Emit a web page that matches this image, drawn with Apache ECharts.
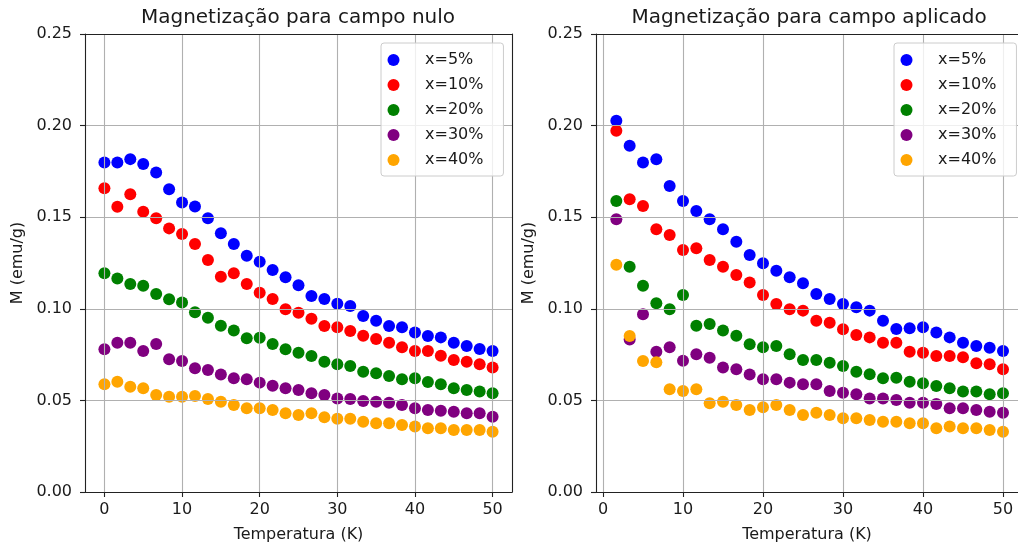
<!DOCTYPE html>
<html>
<head>
<meta charset="utf-8">
<script src="https://cdn.jsdelivr.net/npm/echarts@6/dist/echarts.min.js"></script>
<style>
html,body{margin:0;padding:0;background:#fff;}
#chart{width:1018px;height:547px;}
</style>
</head>
<body>
<div id="chart"></div>
<script>
// ---- data ----
const seriesNames = ['x=5%', 'x=10%', 'x=20%', 'x=30%', 'x=40%'];
const seriesColors = ['#0000ff', '#ff0000', '#008000', '#800080', '#ffa500'];
const xTicks = [0, 10, 20, 30, 40, 50];
const yTicks = [0, 0.05, 0.10, 0.15, 0.20, 0.25];
const titleLeft = 'Magnetização para campo nulo';
const titleRight = 'Magnetização para campo aplicado';
const xLabel = 'Temperatura (K)';
const yLabel = 'M (emu/g)';

// Temperatures (K)
const tempNulo = [0, 1.667, 3.333, 5, 6.667, 8.333, 10, 11.667, 13.333, 15, 16.667, 18.333, 20, 21.667, 23.333, 25, 26.667, 28.333, 30, 31.667, 33.333, 35, 36.667, 38.333, 40, 41.667, 43.333, 45, 46.667, 48.333, 50];
const tempAplicado = [1.667, 3.333, 5, 6.667, 8.333, 10, 11.667, 13.333, 15, 16.667, 18.333, 20, 21.667, 23.333, 25, 26.667, 28.333, 30, 31.667, 33.333, 35, 36.667, 38.333, 40, 41.667, 43.333, 45, 46.667, 48.333, 50];

// Zero field
const nulo5 = [0.1798, 0.1798, 0.1817, 0.1790, 0.1744, 0.1653, 0.1580, 0.1558, 0.1494, 0.1412, 0.1354, 0.1290, 0.1257, 0.1212, 0.1172, 0.1128, 0.1070, 0.1054, 0.1028, 0.1015, 0.0961, 0.0935, 0.0906, 0.0899, 0.0870, 0.0852, 0.0844, 0.0815, 0.0797, 0.0781, 0.0770];
const nulo10 = [0.1658, 0.1557, 0.1625, 0.1530, 0.1494, 0.1439, 0.1408, 0.1354, 0.1266, 0.1175, 0.1194, 0.1135, 0.1088, 0.1053, 0.0997, 0.0979, 0.0946, 0.0906, 0.0899, 0.0879, 0.0853, 0.0835, 0.0815, 0.0790, 0.0770, 0.0770, 0.0744, 0.0721, 0.0711, 0.0697, 0.0679];
const nulo20 = [0.1194, 0.1166, 0.1135, 0.1126, 0.1081, 0.1052, 0.1035, 0.0981, 0.0951, 0.0908, 0.0881, 0.0839, 0.0842, 0.0808, 0.0779, 0.0760, 0.0742, 0.0711, 0.0697, 0.0688, 0.0657, 0.0648, 0.0633, 0.0615, 0.0621, 0.0600, 0.0588, 0.0566, 0.0557, 0.0548, 0.0539];
const nulo30 = [0.0779, 0.0815, 0.0815, 0.0770, 0.0808, 0.0724, 0.0715, 0.0675, 0.0666, 0.0642, 0.0621, 0.0615, 0.0597, 0.0580, 0.0566, 0.0557, 0.0539, 0.0530, 0.0511, 0.0508, 0.0497, 0.0493, 0.0487, 0.0475, 0.0457, 0.0448, 0.0444, 0.0438, 0.0430, 0.0430, 0.0411];
const nulo40 = [0.0588, 0.0602, 0.0575, 0.0566, 0.0529, 0.0520, 0.0520, 0.0524, 0.0508, 0.0493, 0.0475, 0.0457, 0.0457, 0.0448, 0.0430, 0.0420, 0.0430, 0.0408, 0.0400, 0.0400, 0.0384, 0.0375, 0.0375, 0.0366, 0.0357, 0.0348, 0.0348, 0.0338, 0.0338, 0.0338, 0.0329];

// Applied field
const apl5 = [0.2027, 0.1890, 0.1798, 0.1816, 0.1670, 0.1588, 0.1534, 0.1489, 0.1434, 0.1366, 0.1294, 0.1248, 0.1208, 0.1172, 0.1139, 0.1081, 0.1053, 0.1026, 0.1008, 0.0990, 0.0935, 0.0890, 0.0894, 0.0899, 0.0870, 0.0844, 0.0815, 0.0797, 0.0788, 0.0770];
const apl10 = [0.1972, 0.1598, 0.1561, 0.1434, 0.1403, 0.1321, 0.1330, 0.1266, 0.1230, 0.1184, 0.1143, 0.1075, 0.1026, 0.0997, 0.0990, 0.0935, 0.0924, 0.0888, 0.0857, 0.0844, 0.0815, 0.0815, 0.0766, 0.0760, 0.0742, 0.0742, 0.0735, 0.0703, 0.0697, 0.0670];
const apl20 = [0.1588, 0.1230, 0.1126, 0.1030, 0.0997, 0.1075, 0.0908, 0.0917, 0.0881, 0.0853, 0.0806, 0.0790, 0.0797, 0.0752, 0.0721, 0.0721, 0.0706, 0.0688, 0.0657, 0.0643, 0.0621, 0.0624, 0.0602, 0.0593, 0.0579, 0.0566, 0.0548, 0.0548, 0.0533, 0.0539];
const apl30 = [0.1489, 0.0833, 0.0970, 0.0766, 0.0790, 0.0717, 0.0752, 0.0733, 0.0679, 0.0670, 0.0642, 0.0615, 0.0615, 0.0597, 0.0588, 0.0588, 0.0551, 0.0542, 0.0533, 0.0511, 0.0511, 0.0502, 0.0487, 0.0487, 0.0480, 0.0457, 0.0457, 0.0448, 0.0438, 0.0433];
const apl40 = [0.1241, 0.0852, 0.0715, 0.0708, 0.0561, 0.0551, 0.0561, 0.0484, 0.0493, 0.0475, 0.0448, 0.0462, 0.0475, 0.0448, 0.0420, 0.0433, 0.0420, 0.0402, 0.0402, 0.0393, 0.0384, 0.0384, 0.0375, 0.0375, 0.0348, 0.0357, 0.0348, 0.0348, 0.0338, 0.0329];

const nuloSets = [nulo5, nulo10, nulo20, nulo30, nulo40];
const aplSets = [apl5, apl10, apl20, apl30, apl40];

// ---- chart ----
const FONT = 'DejaVu Sans';
const TXT = '#1a1a1a';
const SPINE = '#222';
const chart = echarts.init(document.getElementById('chart'), null, {renderer: 'canvas'});

function zip(xs, ys) { return xs.map((x, i) => [x, ys[i]]); }

function makeX(idx, min, max) {
  return {
    type: 'value', gridIndex: idx, min: min, max: max,
    name: xLabel, nameLocation: 'middle', nameGap: 35,
    nameTextStyle: {fontFamily: FONT, fontSize: 16, color: TXT},
    axisLine: {show: true, onZero: false, lineStyle: {color: SPINE, width: 1.1}},
    axisTick: {show: true, customValues: xTicks, length: 5, lineStyle: {color: SPINE, width: 1.1}},
    axisLabel: {customValues: xTicks, fontFamily: FONT, fontSize: 16, color: TXT, margin: 10},
    splitLine: {show: true, lineStyle: {color: '#b0b0b0', width: 1.1}},
    z: 3
  };
}
function makeXTop(idx, min, max) {
  return {
    type: 'value', gridIndex: idx, min: min, max: max, position: 'top',
    axisLine: {show: true, onZero: false, lineStyle: {color: SPINE, width: 1.1}},
    axisTick: {show: false}, axisLabel: {show: false}, splitLine: {show: false},
    z: 3
  };
}
function makeY(idx) {
  return {
    type: 'value', gridIndex: idx, min: 0, max: 0.25, interval: 0.05,
    name: yLabel, nameLocation: 'middle', nameGap: 59,
    nameTextStyle: {fontFamily: FONT, fontSize: 16, color: TXT},
    axisLine: {show: true, onZero: false, lineStyle: {color: SPINE, width: 1.1}},
    axisTick: {show: true, length: 5, lineStyle: {color: SPINE, width: 1.1}},
    axisLabel: {fontFamily: FONT, fontSize: 16, color: TXT, margin: 13,
      formatter: v => v.toFixed(2)},
    splitLine: {show: true, lineStyle: {color: '#b0b0b0', width: 1.1}},
    z: 3
  };
}
function makeYRight(idx) {
  return {
    type: 'value', gridIndex: idx, min: 0, max: 0.25, interval: 0.05, position: 'right',
    axisLine: {show: true, onZero: false, lineStyle: {color: SPINE, width: 1.1}},
    axisTick: {show: false}, axisLabel: {show: false}, splitLine: {show: false},
    z: 3
  };
}
function makeLegend(left, top) {
  return {
    orient: 'vertical', left: left, top: top,
    data: seriesNames,
    icon: 'circle', itemWidth: 33, itemHeight: 12, itemGap: 9,
    padding: [9, 20, 8, 6.5],
    backgroundColor: 'rgba(255,255,255,0.8)',
    borderColor: '#cccccc', borderWidth: 1, borderRadius: 3,
    textStyle: {fontFamily: FONT, fontSize: 16, color: TXT, lineHeight: 16, padding: [0, 0, 0, 10]},
    z: 10
  };
}

const series = [];
nuloSets.forEach((ys, i) => series.push({
  type: 'scatter', name: seriesNames[i], xAxisIndex: 0, yAxisIndex: 0,
  data: zip(tempNulo, ys), symbolSize: 12, itemStyle: {color: seriesColors[i], opacity: 1},
  emphasis: {disabled: true}, z: 2
}));
aplSets.forEach((ys, i) => series.push({
  type: 'scatter', name: seriesNames[i], xAxisIndex: 1, yAxisIndex: 1,
  data: zip(tempAplicado, ys), symbolSize: 12, itemStyle: {color: seriesColors[i], opacity: 1},
  emphasis: {disabled: true}, z: 2
}));

const leftMin = -2.5, leftMax = 52.5, rightMin = -0.875, rightMax = 51.875;

chart.setOption({
  animation: false,
  backgroundColor: '#ffffff',
  title: [
    {text: titleLeft, left: 293, top: 3, textAlign: 'center',
     textStyle: {fontFamily: FONT, fontSize: 20, fontWeight: 'normal', color: TXT}},
    {text: titleRight, left: 804, top: 3, textAlign: 'center',
     textStyle: {fontFamily: FONT, fontSize: 20, fontWeight: 'normal', color: TXT}}
  ],
  grid: [
    {left: 85, top: 34, width: 427, height: 458, show: false, containLabel: false, outerBoundsMode: 'none'},
    {left: 596, top: 34, width: 422, height: 458, show: false, containLabel: false, outerBoundsMode: 'none'}
  ],
  xAxis: [makeX(0, leftMin, leftMax), makeX(1, rightMin, rightMax), makeXTop(0, leftMin, leftMax), makeXTop(1, rightMin, rightMax)],
  yAxis: [makeY(0), makeY(1), makeYRight(0)],
  legend: [makeLegend(381, 43), makeLegend(894, 43)],
  series: series
});
</script>
</body>
</html>
